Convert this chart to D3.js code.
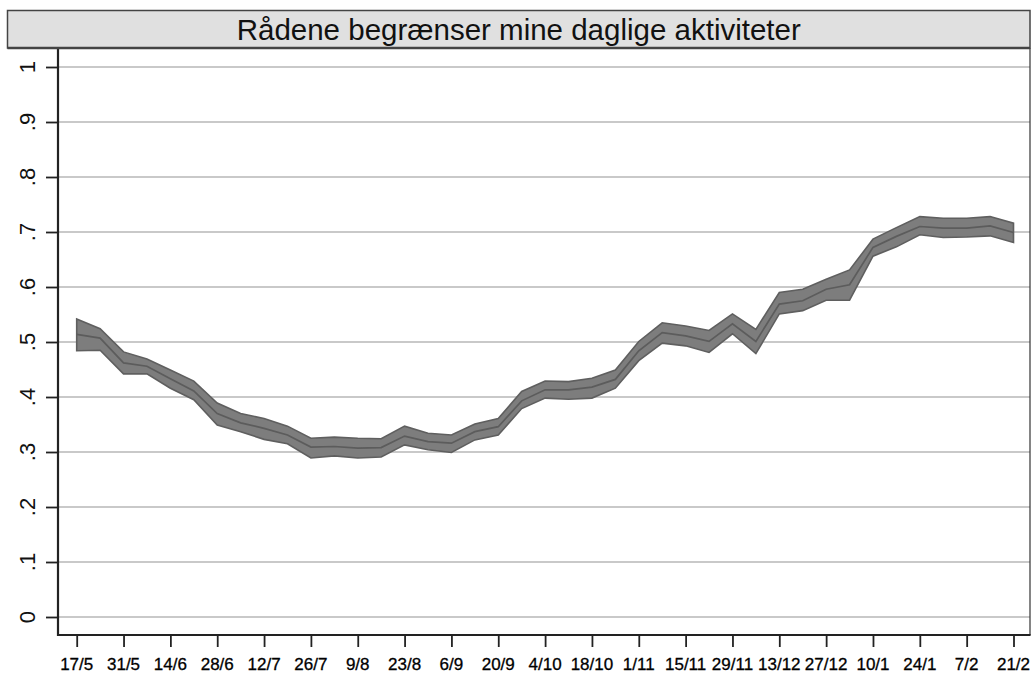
<!DOCTYPE html>
<html>
<head>
<meta charset="utf-8">
<script src="https://cdn.jsdelivr.net/npm/d3@7"></script>
<style>
  html, body { margin: 0; padding: 0; background: #fff; }
  svg { display: block; font-family: "Liberation Sans", Arial, sans-serif; }
</style>
</head>
<body>
<svg id="chart" width="1033" height="677"></svg>
<script>
// Biweekly tick labels (day/month), weekly observations 17/5 .. 21/2
const tickLabels = ["17/5","31/5","14/6","28/6","12/7","26/7","9/8","23/8","6/9","20/9",
  "4/10","18/10","1/11","15/11","29/11","13/12","27/12","10/1","24/1","7/2","21/2"];

// Share agreeing, by week, with lower/upper confidence limits
const meanValues = [0.514,0.507,0.462,0.456,0.433,0.411,0.370,0.353,0.343,0.331,
  0.309,0.310,0.307,0.308,0.329,0.319,0.316,0.337,0.346,0.393,
  0.413,0.413,0.418,0.432,0.484,0.517,0.511,0.501,0.533,0.501,
  0.569,0.575,0.596,0.604,0.672,0.692,0.710,0.707,0.707,0.711,0.699];
const lowerValues = [0.484,0.485,0.442,0.442,0.416,0.395,0.349,0.337,0.323,0.315,
  0.289,0.293,0.289,0.291,0.313,0.304,0.299,0.322,0.331,0.379,
  0.398,0.396,0.398,0.416,0.466,0.498,0.493,0.481,0.515,0.479,
  0.551,0.557,0.576,0.576,0.656,0.673,0.695,0.690,0.691,0.693,0.681];
const upperValues = [0.542,0.524,0.482,0.469,0.449,0.429,0.389,0.370,0.361,0.347,
  0.325,0.327,0.325,0.324,0.347,0.334,0.331,0.351,0.361,0.410,
  0.429,0.428,0.434,0.449,0.501,0.535,0.529,0.521,0.551,0.523,
  0.590,0.596,0.614,0.631,0.687,0.708,0.728,0.725,0.725,0.728,0.716];

const yTicks = [0, 0.1, 0.2, 0.3, 0.4, 0.5, 0.6, 0.7, 0.8, 0.9, 1];
const yFormat = v => v === 0 ? "0" : v === 1 ? "1" : d3.format(".1f")(v).replace(/^0/, "");

const svg = d3.select("#chart");

const plot = { left: 58, right: 1030, top: 48, bottom: 635 };
const x = d3.scaleLinear().domain([0, meanValues.length - 1]).range([76.7, 1013.5]);
const y = d3.scaleLinear().domain([0, 1]).range([617, 67]);

const data = meanValues.map((m, i) => ({ i, m, lo: lowerValues[i], hi: upperValues[i] }));

// Gridlines
svg.append("g")
  .selectAll("line")
  .data(yTicks)
  .join("line")
  .attr("x1", plot.left).attr("x2", plot.right)
  .attr("y1", d => y(d)).attr("y2", d => y(d))
  .attr("stroke", "#c9c9c9")
  .attr("stroke-width", 2.2);

// Confidence band
const area = d3.area()
  .x(d => x(d.i))
  .y0(d => y(d.lo))
  .y1(d => y(d.hi));
svg.append("path")
  .datum(data)
  .attr("d", area)
  .attr("fill", "#7d7d7d")
  .attr("stroke", "#5f5f5f")
  .attr("stroke-width", 1.6)
  .attr("stroke-linejoin", "miter");

// Point estimate
const line = d3.line().x(d => x(d.i)).y(d => y(d.m));
svg.append("path")
  .datum(data)
  .attr("d", line)
  .attr("fill", "none")
  .attr("stroke", "#5c5c5c")
  .attr("stroke-width", 1.7);

// Plot frame: right edge
svg.append("line")
  .attr("x1", plot.right).attr("x2", plot.right)
  .attr("y1", plot.top).attr("y2", plot.bottom)
  .attr("stroke", "#333").attr("stroke-width", 1.2);

// Y axis: ticks from the axis generator, labels rotated alongside
const yAxis = d3.axisLeft(y)
  .tickValues(yTicks)
  .tickSize(12)
  .tickFormat("");
const gy = svg.append("g")
  .attr("transform", `translate(${plot.left},0)`)
  .call(yAxis);
gy.select(".domain").remove();
gy.selectAll(".tick line").attr("stroke", "#222").attr("stroke-width", 1.8);

svg.append("g")
  .selectAll("text")
  .data(yTicks)
  .join("text")
  .attr("transform", d => `translate(35,${y(d)}) rotate(-90)`)
  .attr("text-anchor", "middle")
  .style("font-size", "22px")
  .style("font-family", "'Liberation Sans', Arial, sans-serif")
  .style("fill", "#111")
  .text(yFormat);

svg.append("line")
  .attr("x1", plot.left).attr("x2", plot.left)
  .attr("y1", plot.top).attr("y2", plot.bottom + 1)
  .attr("stroke", "#222").attr("stroke-width", 2.2);

// X axis
const xAxis = d3.axisBottom(x)
  .tickValues(d3.range(0, meanValues.length, 2))
  .tickSize(12)
  .tickFormat("");
const gx = svg.append("g")
  .attr("transform", `translate(0,${plot.bottom})`)
  .call(xAxis);
gx.select(".domain").remove();
gx.selectAll(".tick line").attr("stroke", "#222").attr("stroke-width", 1.8);

svg.append("g")
  .selectAll("text")
  .data(tickLabels)
  .join("text")
  .attr("x", (d, k) => x(k * 2))
  .attr("y", 670)
  .attr("text-anchor", "middle")
  .style("font-size", "17px")
  .style("font-family", "'Liberation Sans', Arial, sans-serif")
  .style("fill", "#000")
  .style("stroke", "#000")
  .style("stroke-width", "0.3px")
  .text(d => d);

svg.append("line")
  .attr("x1", plot.left - 1).attr("x2", plot.right + 0.6)
  .attr("y1", plot.bottom).attr("y2", plot.bottom)
  .attr("stroke", "#222").attr("stroke-width", 2.2);

// Title box
svg.append("rect")
  .attr("x", 7.5).attr("y", 10.5)
  .attr("width", plot.right - 7.5).attr("height", 37.5)
  .attr("fill", "#e0e0e0")
  .attr("stroke", "#444")
  .attr("stroke-width", 1.5);
svg.append("line")
  .attr("x1", 7.5).attr("x2", plot.right)
  .attr("y1", 48).attr("y2", 48)
  .attr("stroke", "#444").attr("stroke-width", 2.5);
svg.append("text")
  .attr("x", (7.5 + plot.right) / 2)
  .attr("y", 39.5)
  .attr("text-anchor", "middle")
  .style("font-size", "29.5px")
  .style("fill", "#111")
  .text("Rådene begrænser mine daglige aktiviteter");
</script>
</body>
</html>
